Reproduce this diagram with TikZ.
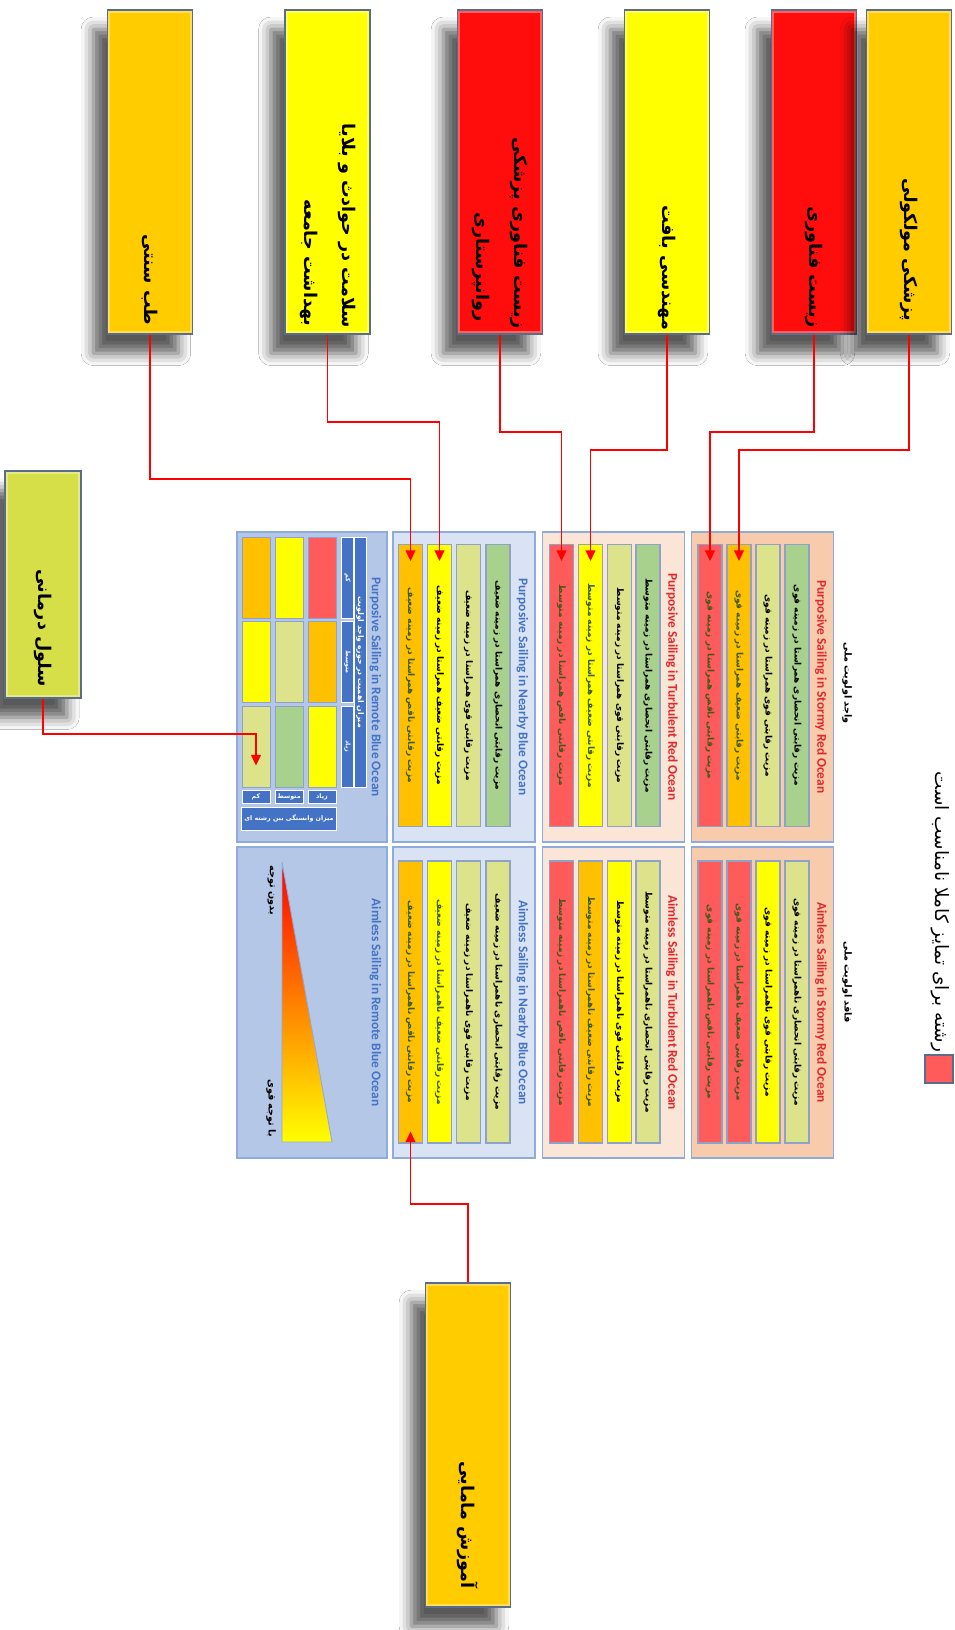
\documentclass[tikz,border=0pt]{standalone}
\usepackage{fontspec}
\setmainfont{Carlito}
\newfontfamily\fa[Script=Arabic]{DejaVu Sans}
\TeXXeTstate=1
\usetikzlibrary{arrows.meta,shadows.blur}

\newlength\pxu
\setlength\pxu{0.02cm}
\newcommand{\fatx}[1]{\beginR #1\endR}

\definecolor{boxGold}{HTML}{FFCC00}
\definecolor{boxYellow}{HTML}{FFFF00}
\definecolor{boxRed}{HTML}{FF0D0D}
\definecolor{boxLime}{HTML}{D6DF48}
\definecolor{boxEdge}{HTML}{5A6C8A}
\definecolor{cRed}{HTML}{FF5B5B}
\definecolor{cOrange}{HTML}{FFC000}
\definecolor{cYellow}{HTML}{FFFF00}
\definecolor{cLime}{HTML}{DCE38A}
\definecolor{cGreen}{HTML}{A9D18E}
\definecolor{cEdge}{HTML}{8EA2C8}
\definecolor{pnStorm}{HTML}{F8CBAD}
\definecolor{pnTurb}{HTML}{FBE5D6}
\definecolor{pnNear}{HTML}{DAE3F3}
\definecolor{pnFar}{HTML}{B4C7E7}
\definecolor{pnEdge}{HTML}{8FAADC}
\definecolor{ttlRed}{HTML}{E3262B}
\definecolor{ttlBlue}{HTML}{4472C4}
\definecolor{hdBlue}{HTML}{4472C4}
\definecolor{txGreen}{HTML}{3B5A1E}
\definecolor{linkRed}{HTML}{FF0000}

\begin{document}
\begin{tikzpicture}[
  x=0.02cm, y=-0.02cm,
  topbox/.style={draw=boxEdge, line width=0.8pt, fill=#1, rotate=-90,
    minimum width=324\pxu, minimum height=85\pxu, inner sep=0pt,
    blur shadow={shadow xshift=-8pt, shadow yshift=-11pt, shadow blur radius=7pt, shadow opacity=65},
    path picture={\draw[white, opacity=0.35, line width=3pt]
      (path picture bounding box.north west) rectangle (path picture bounding box.south east);}},
  boxlbl/.style={rotate=-90, inner sep=0pt,
    font=\fa\bfseries\fontsize{10}{12}\selectfont},
  panel/.style={draw=pnEdge, line width=0.6pt, fill=#1, minimum width=142\pxu,
    minimum height=310\pxu, inner sep=0pt},
  cell/.style 2 args={draw=cEdge, line width=0.6pt, fill=#1, text=#2, rotate=-90,
    minimum width=282\pxu, minimum height=24\pxu, inner sep=0pt,
    font=\fa\bfseries\fontsize{5.1}{6}\selectfont},
  ttl/.style={rotate=-90, text=#1, inner sep=0pt, font=\bfseries\fontsize{7.6}{8}\selectfont},
  tq/.style={draw=cEdge, line width=0.5pt, fill=#1, minimum width=28\pxu,
    minimum height=81\pxu, inner sep=0pt},
  hd/.style={draw=white, line width=0.4pt, fill=hdBlue, text=white, inner sep=0pt,
    font=\fa\bfseries\fontsize{3.6}{4}\selectfont},
  note/.style={rotate=-90, inner sep=0pt, font=\fa\bfseries\fontsize{5.5}{6}\selectfont},
  link/.style={draw=linkRed, line width=1pt, -{Triangle[length=6pt,width=5.5pt]}}
]
\useasboundingbox (0,0) rectangle (954,1630);
\fill[white] (0,0) rectangle (954,1630);

% fields
\node[topbox=boxGold] (bTrad) at (150,172) {};
\node[topbox=boxYellow] (bHealth) at (327.5,172) {};
\node[topbox=boxRed] (bBioMed) at (500,172) {};
\node[topbox=boxYellow] (bTissue) at (667,172) {};
\node[topbox=boxRed] (bBio) at (814,172) {};
\node[topbox=boxGold] (bMol) at (909,172) {};
\node[topbox=boxLime, minimum width=227\pxu, minimum height=76\pxu] (bStem) at (43,584.5) {};
\node[topbox=boxGold] (bMidwife) at (468,1445) {};

\node[boxlbl] (bTradL) at (150,280) {\fatx{طب سنتی}};
\node[boxlbl] (bHealthL1) at (347,226) {\fatx{سلامت در حوادث و بلایا}};
\node[boxlbl] (bHealthL2) at (309,263) {\fatx{بهداشت جامعه}};
\node[boxlbl] (bBioMedL1) at (519,233) {\fatx{زیست فناوری پزشکی}};
\node[boxlbl] (bBioMedL2) at (481,267) {\fatx{روانپرستاری}};
\node[boxlbl] (bTissueL) at (667,268) {\fatx{مهندسی بافت}};
\node[boxlbl] (bBioL) at (814,267) {\fatx{زیست فناوری}};
\node[boxlbl] (bMolL) at (909,250) {\fatx{پزشکی مولکولی}};
\node[boxlbl] (bStemL) at (43,628) {\fatx{سلول درمانی}};
\node[boxlbl] (bMidwifeL) at (468,1525) {\fatx{آموزش مامایی}};

% panels
\node[panel=pnStorm] (pStorm) at (762.5,687) {};
\node[panel=pnStorm, minimum height=311\pxu] (aStorm) at (762.5,1002.5) {};
\node[panel=pnTurb] (pTurb) at (613.5,687) {};
\node[panel=pnTurb, minimum height=311\pxu] (aTurb) at (613.5,1002.5) {};
\node[panel=pnNear] (pNear) at (464,687) {};
\node[panel=pnNear, minimum height=311\pxu] (aNear) at (464,1002.5) {};
\node[panel=pnFar, minimum width=150\pxu] (pFar) at (312,687) {};
\node[panel=pnFar, minimum width=150\pxu, minimum height=311\pxu] (aFar) at (312,1002.5) {};

\node[ttl=ttlRed] (pStormT) at ([xshift=-13\pxu]pStorm.east) {Purposive Sailing in Stormy Red Ocean};
\node[ttl=ttlRed] (aStormT) at ([xshift=-13\pxu]aStorm.east) {Aimless Sailing in Stormy Red Ocean};
\node[ttl=ttlRed] (pTurbT) at ([xshift=-13\pxu]pTurb.east) {Purposive Sailing in Turbulent Red Ocean};
\node[ttl=ttlRed] (aTurbT) at ([xshift=-13\pxu]aTurb.east) {Aimless Sailing in Turbulent Red Ocean};
\node[ttl=ttlBlue] (pNearT) at ([xshift=-13\pxu]pNear.east) {Purposive Sailing in Nearby Blue Ocean};
\node[ttl=ttlBlue] (aNearT) at ([xshift=-13\pxu]aNear.east) {Aimless Sailing in Nearby Blue Ocean};
\node[ttl=ttlBlue] (pFarT) at ([xshift=-12\pxu]pFar.east) {Purposive Sailing in Remote Blue Ocean};
\node[ttl=ttlBlue] (aFarT) at ([xshift=-12\pxu]aFar.east) {Aimless Sailing in Remote Blue Ocean};

% stormy red ocean
\node[cell={cGreen}{black}] (pStormD) at (797,685.5) {\fatx{مزیت رقابتی انحصاری همراستا در زمینه قوی}};
\node[cell={cLime}{black}] (pStormC) at (768,685.5) {\fatx{مزیت رقابتی قوی همراستا در زمینه قوی}};
\node[cell={cOrange}{txGreen}] (pStormB) at (739,685.5) {\fatx{مزیت رقابتی ضعیف همراستا در زمینه قوی}};
\node[cell={cRed}{txGreen}] (pStormA) at (710,685.5) {\fatx{مزیت رقابتی ناقص همراستا در زمینه قوی}};
\node[cell={cLime}{black}] (aStormD) at (797,1002) {\fatx{مزیت رقابتی انحصاری ناهمراستا در زمینه قوی}};
\node[cell={cYellow}{black}] (aStormC) at (768,1002) {\fatx{مزیت رقابتی قوی ناهمراستا در زمینه قوی}};
\node[cell={cRed}{txGreen}] (aStormB) at (739,1002) {\fatx{مزیت رقابتی ضعیف ناهمراستا در زمینه قوی}};
\node[cell={cRed}{txGreen}] (aStormA) at (710,1002) {\fatx{مزیت رقابتی ناقص ناهمراستا در زمینه قوی}};

% turbulent red ocean
\node[cell={cGreen}{black}] (pTurbD) at (648,685.5) {\fatx{مزیت رقابتی انحصاری همراستا در زمینه متوسط}};
\node[cell={cLime}{black}] (pTurbC) at (619.5,685.5) {\fatx{مزیت رقابتی قوی همراستا در زمینه متوسط}};
\node[cell={cYellow}{txGreen}] (pTurbB) at (590.5,685.5) {\fatx{مزیت رقابتی ضعیف همراستا در زمینه متوسط}};
\node[cell={cRed}{txGreen}] (pTurbA) at (561.5,685.5) {\fatx{مزیت رقابتی ناقص همراستا در زمینه متوسط}};
\node[cell={cLime}{black}] (aTurbD) at (648,1002) {\fatx{مزیت رقابتی انحصاری ناهمراستا در زمینه متوسط}};
\node[cell={cYellow}{black}] (aTurbC) at (619.5,1002) {\fatx{مزیت رقابتی قوی ناهمراستا در زمینه متوسط}};
\node[cell={cOrange}{txGreen}] (aTurbB) at (590.5,1002) {\fatx{مزیت رقابتی ضعیف ناهمراستا در زمینه متوسط}};
\node[cell={cRed}{txGreen}] (aTurbA) at (561.5,1002) {\fatx{مزیت رقابتی ناقص ناهمراستا در زمینه متوسط}};

% nearby blue ocean
\node[cell={cGreen}{black}] (pNearD) at (498,685.5) {\fatx{مزیت رقابتی انحصاری همراستا در زمینه ضعیف}};
\node[cell={cLime}{black}] (pNearC) at (468.5,685.5) {\fatx{مزیت رقابتی قوی همراستا در زمینه ضعیف}};
\node[cell={cYellow}{black}] (pNearB) at (439.5,685.5) {\fatx{مزیت رقابتی ضعیف همراستا در زمینه ضعیف}};
\node[cell={cOrange}{txGreen}] (pNearA) at (410.5,685.5) {\fatx{مزیت رقابتی ناقص همراستا در زمینه ضعیف}};
\node[cell={cLime}{black}] (aNearD) at (498,1002) {\fatx{مزیت رقابتی انحصاری ناهمراستا در زمینه ضعیف}};
\node[cell={cLime}{black}] (aNearC) at (468.5,1002) {\fatx{مزیت رقابتی قوی ناهمراستا در زمینه ضعیف}};
\node[cell={cYellow}{txGreen}] (aNearB) at (439.5,1002) {\fatx{مزیت رقابتی ضعیف ناهمراستا در زمینه ضعیف}};
\node[cell={cOrange}{txGreen}] (aNearA) at (410.5,1002) {\fatx{مزیت رقابتی ناقص ناهمراستا در زمینه ضعیف}};

% remote blue ocean: matrix
\node[tq=cOrange] (tq11) at (256,577.5) {};
\node[tq=cYellow] (tq12) at (256,662) {};
\node[tq=cLime] (tq13) at (256,746.5) {};
\node[tq=cYellow] (tq21) at (289,577.5) {};
\node[tq=cLime] (tq22) at (289,662) {};
\node[tq=cGreen] (tq23) at (289,746.5) {};
\node[tq=cRed] (tq31) at (322,577.5) {};
\node[tq=cOrange] (tq32) at (322,662) {};
\node[tq=cYellow] (tq33) at (322,746.5) {};
\node[hd, rotate=-90, minimum width=81\pxu, minimum height=12\pxu] (hdR1) at (347.5,577.5) {\fatx{کم}};
\node[hd, rotate=-90, minimum width=81\pxu, minimum height=12\pxu] (hdR2) at (347.5,662) {\fatx{متوسط}};
\node[hd, rotate=-90, minimum width=81\pxu, minimum height=12\pxu] (hdR3) at (347.5,746.5) {\fatx{زیاد}};
\node[hd, rotate=-90, minimum width=250\pxu, minimum height=12\pxu, font=\fa\bfseries\fontsize{4.4}{5}\selectfont] (hdRow) at (360,662) {\fatx{میزان اهمیت در حوزه واجد اولویت}};
\node[hd, minimum width=28\pxu, minimum height=13\pxu] (hdC1) at (256,796.5) {\fatx{کم}};
\node[hd, minimum width=28\pxu, minimum height=13\pxu] (hdC2) at (289,796.5) {\fatx{متوسط}};
\node[hd, minimum width=28\pxu, minimum height=13\pxu] (hdC3) at (322,796.5) {\fatx{زیاد}};
\node[hd, minimum width=95\pxu, minimum height=23\pxu] (hdCol) at (289,818.5) {\fatx{میزان وابستگی بین رشته ای}};

% remote blue ocean: attention wedge
\shade[top color=red, middle color=cOrange, bottom color=yellow] (282,862) -- (282,1142) -- (332,1142) -- cycle;
\draw[pnEdge, line width=0.5pt] (282,862) -- (282,1142) -- (332,1142) -- cycle;
\node[note] (wTop) at (271,890) {\fatx{بدون توجه}};
\node[note] (wBot) at (271,1108) {\fatx{با توجه قوی}};

% legend
\node[note] (lgHas) at (847,683) {\fatx{واجد اولویت ملی}};
\node[note] (lgNot) at (847,982) {\fatx{فاقد اولویت ملی}};
\node[note, font=\fa\fontsize{10.5}{12}\selectfont] (lgTxt) at (940,912) {\fatx{رشته برای تمایز کاملا نامناسب است}};
\node[draw=boxEdge, line width=0.6pt, fill=cRed, minimum size=28\pxu, inner sep=0pt] (lgSq) at (939,1069) {};

% links
\draw[link, shorten >=-17\pxu] (bMol.east) -- ++(0,115) -| (pStormB.west);
\draw[link, shorten >=-17\pxu] (bBio.east) -- ++(0,97) -| (pStormA.west);
\draw[link, shorten >=-17\pxu] (bTissue.east) -- ++(0,115) -| (pTurbB.west);
\draw[link, shorten >=-17\pxu] (bBioMed.east) -- ++(0,97) -| (pTurbA.west);
\draw[link, shorten >=-17\pxu] (bHealth.east) -- ++(0,87) -| (pNearB.west);
\draw[link, shorten >=-17\pxu] (bTrad.east) -- ++(0,144) -| (pNearA.west);
\draw[link] (bStem.east) -- ++(0,35) -| ([yshift=-19\pxu]tq13.center);
\draw[link, shorten >=-12\pxu] (bMidwife.west) -- ++(0,-78) -| (aNearA.east);
\end{tikzpicture}
\end{document}
